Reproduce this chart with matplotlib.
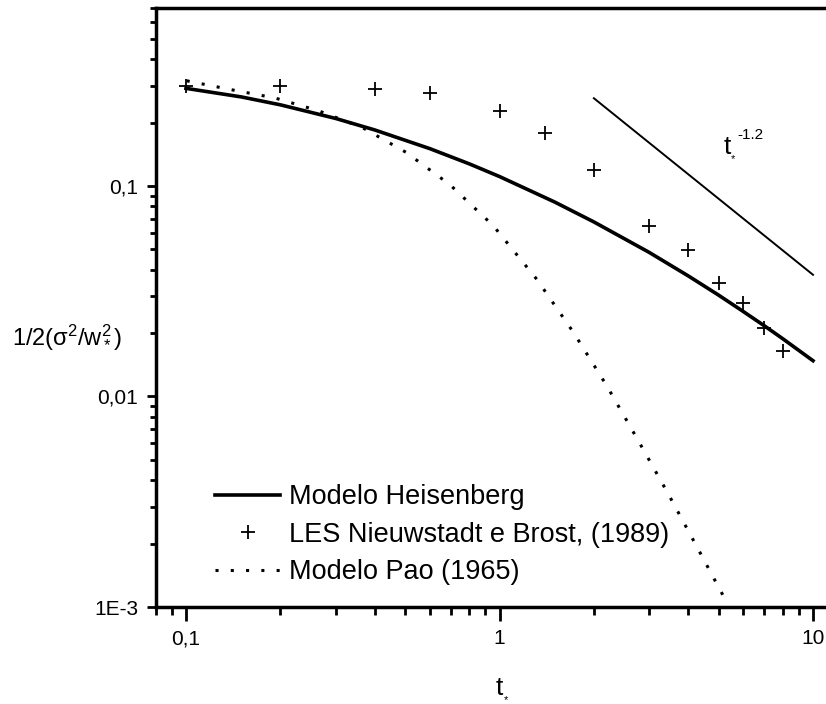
import matplotlib
matplotlib.use('Agg')
import matplotlib.pyplot as plt
import numpy as np
from matplotlib.ticker import LogLocator, NullFormatter

plt.rcParams['font.family'] = ['Liberation Sans', 'DejaVu Sans']
plt.rcParams['mathtext.fontset'] = 'custom'
plt.rcParams['mathtext.rm'] = 'Liberation Sans'
plt.rcParams['mathtext.it'] = 'Liberation Sans:italic'
plt.rcParams['mathtext.default'] = 'regular'

# Modelo Heisenberg
t_heis = [0.1, 0.15, 0.2, 0.3, 0.4, 0.6, 0.8, 1.0, 1.5, 2.0, 3.0, 4.0, 5.0, 6.0, 7.0, 8.0, 10.0]
v_heis = [0.291, 0.265, 0.243, 0.2094, 0.1846, 0.1504, 0.1275, 0.1109, 0.0839, 0.0675,
          0.0484, 0.0374, 0.0303, 0.0253, 0.02165, 0.01883, 0.01479]

# LES Nieuwstadt e Brost (1989)
t_les = [0.1, 0.2, 0.4, 0.6, 1.0, 1.4, 2.0, 3.0, 4.0, 5.0, 6.0, 7.0, 8.0]
v_les = [0.299, 0.299, 0.288, 0.277, 0.228, 0.179, 0.1195, 0.0648, 0.0498, 0.0346, 0.0277, 0.0211, 0.0165]

# Modelo Pao (1965)
t_pao = [0.1005, 0.139, 0.192, 0.264, 0.364, 0.503, 0.695, 0.955, 1.314, 1.72, 2.198, 2.752, 3.43, 4.256, 5.24]
v_pao = [0.316, 0.287, 0.262, 0.228, 0.190, 0.1446, 0.1014, 0.0648, 0.0361, 0.0202, 0.01125, 0.00628, 0.00351, 0.00194, 0.00109]

# reference slope t*^-1.2
expo = -1.2
coef = 0.6
t_pow = np.array([2.0, 10.0])

xticks = [0.1, 1, 10]
xticklabels = ['0,1', '1', '10']
yticks = [0.001, 0.01, 0.1]
yticklabels = ['1E-3', '0,01', '0,1']

fig = plt.figure(figsize=(8.26, 7.04), dpi=100)
ax = fig.add_axes([155.6/826, 97/704, 670.4/826, 598.9/704])

ax.plot(t_heis, v_heis, color='black', lw=2.6, label='Modelo Heisenberg')
ax.plot(t_les, v_les, linestyle='none', marker='+', ms=10, mew=1.3, color='black',
        label='LES Nieuwstadt e Brost, (1989)')
ax.plot(t_pao, v_pao, color='black', lw=2.2, linestyle=(0, (1, 4.0)), label='Modelo Pao (1965)')
ax.plot(t_pow, coef * t_pow**expo, color='black', lw=1.4)

ax.set_xscale('log')
ax.set_yscale('log')
ax.set_xlim(0.08, 11.0)
ax.set_ylim(0.001, 0.7)

ax.set_xticks(xticks)
ax.set_xticklabels(xticklabels)
ax.set_yticks(yticks)
ax.set_yticklabels(yticklabels)
ax.xaxis.set_minor_locator(LogLocator(base=10, subs=np.arange(2, 10), numticks=20))
ax.yaxis.set_minor_locator(LogLocator(base=10, subs=np.arange(2, 10), numticks=20))
ax.xaxis.set_minor_formatter(NullFormatter())
ax.yaxis.set_minor_formatter(NullFormatter())

ax.tick_params(axis='x', which='major', direction='out', length=10, width=2, labelsize=15, pad=6)
ax.tick_params(axis='x', which='minor', direction='out', length=6, width=2)
ax.tick_params(axis='y', which='major', direction='out', length=6.5, width=2, labelsize=15, pad=6)
ax.tick_params(axis='y', which='minor', direction='out', length=4.5, width=2)

for s in ['left', 'bottom', 'top']:
    ax.spines[s].set_linewidth(2.5)
ax.spines['right'].set_visible(False)

# x label: t with a small * underneath to the right
ax.text(0.513, -0.135, 't', transform=ax.transAxes, fontsize=19, ha='center', va='center')
ax.text(0.522, -0.155, '*', transform=ax.transAxes, fontsize=8, ha='center', va='center')
ax.set_ylabel('1/2(σ$^2$/w$_*^2$)', rotation=0, fontsize=17, ha='left', va='center')
ax.yaxis.set_label_coords(-0.2142, 0.4508)

# slope label
ax.text(5.32, 0.153, 't', fontsize=19, ha='center', va='center')
ax.text(5.56, 0.134, '*', fontsize=8, ha='center', va='center')
ax.text(5.72, 0.1746, '-1.2', fontsize=11, ha='left', va='center')

ax.legend(loc='upper left', bbox_to_anchor=(215/826, 1 - 484/704), bbox_transform=fig.transFigure,
          frameon=False, fontsize=19.5, handlelength=2.4, handletextpad=0.35,
          labelspacing=0.43, borderpad=0, borderaxespad=0)

fig.savefig('out.png', dpi=100)
